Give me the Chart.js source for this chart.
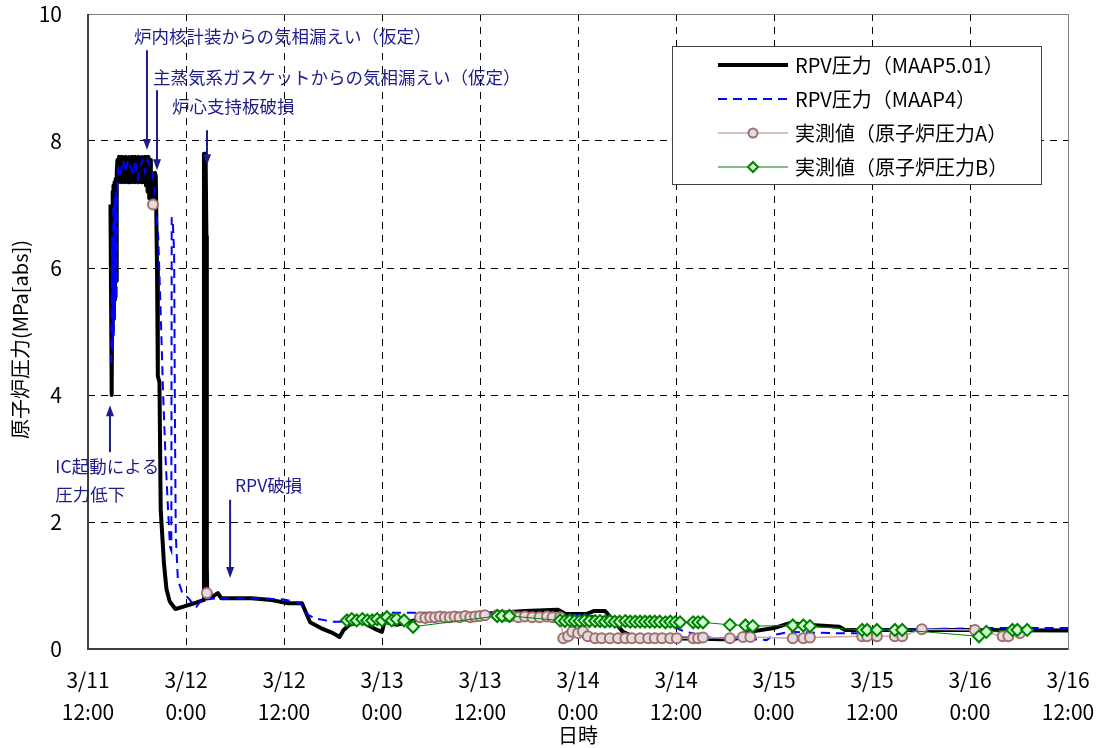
<!DOCTYPE html>
<html lang="ja">
<head>
<meta charset="UTF-8">
<title>RPV圧力</title>
<script src="https://cdn.jsdelivr.net/npm/chart.js"></script>
<style>
  body { margin: 0; background: #fff; }
  #wrap { width: 1097px; height: 748px; }
</style>
</head>
<body>
<div id="wrap"><canvas id="rpvChart" width="1097" height="748"></canvas></div>
<script>
// hours after 3/11 12:00, pressure MPa[abs]
const rpvMaap501 = [
  [2.75,7.0],[2.9,4.0],[2.95,5.3],[3.0,7.2],[3.05,5.0],[3.12,7.3],[3.18,5.2],[3.25,7.35],[3.3,5.5],
  [3.38,7.4],[3.45,5.8],[3.52,7.5],[3.6,7.7],[3.7,7.35],[3.8,7.75],[3.9,7.4],[4.0,7.7],[4.1,7.35],
  [4.2,7.75],[4.3,7.4],[4.4,7.7],[4.5,7.35],[4.6,7.75],[4.7,7.4],[4.8,7.7],[4.9,7.35],[5.0,7.75],
  [5.1,7.4],[5.2,7.7],[5.3,7.35],[5.4,7.75],[5.5,7.4],[5.6,7.7],[5.7,7.35],[5.8,7.75],[5.9,7.4],
  [6.0,7.7],[6.1,7.35],[6.2,7.75],[6.3,7.4],[6.4,7.7],[6.5,7.35],[6.6,7.75],[6.7,7.4],[6.8,7.7],
  [6.9,7.35],[7.0,7.75],[7.1,7.3],[7.2,7.7],[7.3,7.2],[7.4,7.75],[7.5,7.1],[7.6,7.7],[7.7,7.0],
  [7.8,7.1],[8.0,7.2],[8.2,7.5],[8.3,7.45],[8.45,6.0],
  [8.55,4.3],[8.75,4.2],[8.9,2.2],[9.3,1.35],[9.6,0.95],[10.0,0.75],[10.7,0.63],[11.5,0.66],[13.0,0.72],
  [14.1,0.77],[14.2,7.8],[14.4,7.8],[14.5,6.5],[14.55,1.3],[14.6,0.9],[15.2,0.82],[15.9,0.88],[16.3,0.8],
  [20.0,0.8],[22.5,0.77],[24.5,0.72],[26.2,0.72],[27.2,0.42],[28.5,0.33],[30.0,0.25],[30.8,0.19],
  [31.3,0.3],[32.0,0.38],[33.5,0.43],[35.4,0.3],[36.0,0.27],[36.3,0.43],[37.8,0.38],[40.3,0.46],
  [44.0,0.52],[48.0,0.55],[53.5,0.6],[57.5,0.62],[58.5,0.55],[61.0,0.55],[62.0,0.6],[63.3,0.6],
  [64.0,0.5],[65.5,0.27],[66.7,0.2],[70.0,0.17],[75.0,0.16],[79.0,0.15],[80.0,0.19],[81.0,0.27],
  [84.0,0.33],[86.0,0.41],[88.0,0.38],[92.0,0.35],[92.7,0.3],[107.0,0.3],[120.0,0.29]
];
const rpvMaap4 = [
  [2.85,4.5],[2.95,6.5],[3.0,4.7],[3.1,7.0],[3.15,4.9],[3.25,7.1],[3.3,5.2],[3.4,7.2],[3.5,5.5],
  [3.6,7.3],[3.7,7.6],[4.0,7.5],[4.3,7.7],[4.6,7.5],[4.9,7.7],[5.2,7.6],[5.5,7.45],[5.8,7.7],
  [6.1,7.4],[6.4,7.6],[6.7,7.7],[7.0,7.5],[7.3,7.7],[7.6,7.6],[7.9,7.5],[8.1,7.3],[8.6,6.5],
  [8.9,5.3],[9.2,4.0],[9.5,3.0],[9.8,2.2],[10.05,1.6],[10.2,1.55],[10.25,6.8],[10.4,6.7],[10.55,6.2],
  [10.65,3.5],[10.75,1.8],[11.0,1.1],[11.5,0.9],[12.3,0.8],[12.9,0.7],[13.2,0.65],[13.6,0.72],
  [14.0,0.8],[14.5,0.78],[16.0,0.8],[20.0,0.8],[24.0,0.78],[26.0,0.72],[26.8,0.55],[27.8,0.48],
  [30.0,0.43],[31.5,0.43],[33.0,0.45],[35.0,0.5],[37.0,0.57],[45.0,0.57],[55.0,0.57],[58.0,0.55],
  [64.0,0.5],[71.0,0.43],[72.5,0.3],[73.3,0.27],[76.5,0.17],[79.8,0.17],[83.1,0.14],[83.9,0.22],
  [86.0,0.27],[90.9,0.25],[95.4,0.25],[95.8,0.3],[110.8,0.33],[120.0,0.33]
];
// null = no recorded value between the samples
const measuredA = [
  [7.96,7.0],[8.0,null],[14.55,0.88],[14.6,null],
  [40.65,0.5],[41.3,0.49],[41.9,0.5],[42.5,0.5],[43.1,0.51],[43.7,0.5],[44.3,0.5],[44.9,0.51],
  [45.5,0.5],[46.2,0.52],[46.8,0.5],[47.4,0.51],[48.0,0.52],[48.6,0.53],[50.1,0.53],[51.1,0.52],
  [51.9,0.52],[52.7,0.5],[53.5,0.51],[54.4,0.5],[55.3,0.5],[56.2,0.51],[56.9,0.5],[57.8,0.5],
  [58.2,0.17],[58.8,0.2],[59.3,0.27],[60.0,0.25],[60.6,0.28],[61.2,0.2],[62.1,0.17],[62.9,0.17],
  [63.9,0.17],[64.9,0.17],[65.8,0.17],[66.6,0.17],[67.6,0.17],[68.6,0.17],[69.4,0.17],[70.3,0.17],
  [71.3,0.17],[72.1,0.17],[74.1,0.17],[74.7,0.17],[75.3,0.18],[78.6,0.17],[80.2,0.19],[81.1,0.19],
  [86.3,0.17],[87.6,0.17],[88.4,0.18],[94.8,0.2],[95.4,0.2],[96.6,0.2],[98.8,0.2],[99.7,0.2],
  [102.1,0.31],[108.6,0.3],[112.0,0.2],[112.7,0.2],[114.1,0.25]
];
const measuredB = [
  [31.7,0.45],[32.3,0.47],[32.9,0.45],[33.6,0.47],[34.2,0.45],[34.8,0.45],[35.4,0.47],[36.0,0.45],
  [36.6,0.5],[37.2,0.45],[37.8,0.47],[38.7,0.45],[39.8,0.35],[50.1,0.52],[50.7,0.52],[51.6,0.52],
  [57.8,0.45],[58.4,0.44],[59.0,0.45],[59.6,0.44],[60.2,0.44],[60.8,0.45],[61.4,0.44],[62.1,0.44],
  [62.7,0.44],[63.3,0.43],[63.9,0.44],[64.5,0.43],[65.1,0.43],[65.8,0.44],[66.4,0.43],[67.0,0.43],
  [67.6,0.43],[68.2,0.43],[68.8,0.43],[69.4,0.43],[70.0,0.43],[70.7,0.42],[71.3,0.43],[71.9,0.42],
  [72.5,0.42],[74.1,0.42],[74.7,0.42],[75.3,0.42],[78.6,0.38],[80.5,0.37],[81.4,0.36],[86.3,0.37],
  [87.6,0.37],[88.4,0.36],[94.8,0.3],[95.4,0.3],[96.6,0.3],[98.8,0.3],[99.7,0.3],[109.1,0.2],
  [110.0,0.27],[113.2,0.3],[113.8,0.3],[115.0,0.3]
];
const tickHours = [0, 12, 24, 36, 48, 60, 72, 84, 96, 108, 120];
const tickDays  = ['3/11','3/12','3/12','3/13','3/13','3/14','3/14','3/15','3/15','3/16','3/16'];
const tickTimes = ['12:00','0:00','12:00','0:00','12:00','0:00','12:00','0:00','12:00','0:00','12:00'];
const yTicks = [0, 2, 4, 6, 8, 10];
const seriesNames = ['RPV圧力（MAAP5.01）', 'RPV圧力（MAAP4）', '実測値（原子炉圧力A）', '実測値（原子炉圧力B）'];
// [text lines, text x (h), text y (MPa), arrow x (h), arrow from, arrow to]
const notes = [
  [['炉内核計装からの気相漏えい（仮定）'], 5.63, 9.65, 7.22, 9.43, 7.86],
  [['主蒸気系ガスケットからの気相漏えい（仮定）'], 7.96, 9.0, 8.45, 8.8, 7.54],
  [['炉心支持板破損'], 10.3, 8.55, 14.57, 8.17, 7.62],
  [['IC起動による', '圧力低下'], -4.0, 2.87, 2.69, 3.1, 3.84],
  [['RPV破損'], 18.0, 2.58, 17.4, 2.35, 1.12]
];

const FONT = '"Noto Sans CJK JP", "Noto Sans", sans-serif';
const NAVY = '#1c1c8a';
const toXY = arr => arr.map(p => ({ x: p[0], y: p[1] }));

const extras = {
  id: 'extras',
  afterDatasetsDraw(chart) {
    const { ctx, chartArea: a, scales: { x, y } } = chart;
    ctx.save();
    // frame
    ctx.strokeStyle = '#808080';
    ctx.lineWidth = 1;
    ctx.strokeRect(a.left + 0.5, a.top + 0.5, a.right - a.left, a.bottom - a.top);
    ctx.strokeStyle = '#404040';
    ctx.lineWidth = 2;
    ctx.beginPath();
    ctx.moveTo(a.left, a.top);
    ctx.lineTo(a.left, a.bottom);
    ctx.lineTo(a.right, a.bottom);
    ctx.stroke();

    // tick labels
    ctx.fillStyle = '#000';
    ctx.font = '21px ' + FONT;
    ctx.textBaseline = 'middle';
    ctx.textAlign = 'right';
    yTicks.forEach(v => ctx.fillText(String(v), a.left - 26, y.getPixelForValue(v)));
    ctx.textAlign = 'center';
    tickHours.forEach((h, i) => {
      const px = x.getPixelForValue(h);
      ctx.fillText(tickDays[i], px, a.bottom + 31);
      ctx.fillText(tickTimes[i], px, a.bottom + 63);
    });

    // annotations
    ctx.fillStyle = NAVY;
    ctx.strokeStyle = NAVY;
    ctx.font = '17.5px ' + FONT;
    ctx.textAlign = 'left';
    notes.forEach(n => {
      const tx = x.getPixelForValue(n[1]);
      n[0].forEach((line, i) => ctx.fillText(line, tx, y.getPixelForValue(n[2]) + i * 28));
      const ax = x.getPixelForValue(n[3]);
      const y0 = y.getPixelForValue(n[4]);
      const y1 = y.getPixelForValue(n[5]);
      const dir = y1 > y0 ? 1 : -1;
      ctx.lineWidth = 2;
      ctx.beginPath();
      ctx.moveTo(ax, y0);
      ctx.lineTo(ax, y1 - dir * 8);
      ctx.stroke();
      ctx.beginPath();
      ctx.moveTo(ax, y1);
      ctx.lineTo(ax - 4, y1 - dir * 11);
      ctx.lineTo(ax + 4, y1 - dir * 11);
      ctx.closePath();
      ctx.fill();
    });

    // legend
    const lx = a.left + 584, ly = a.top + 32, lw = 369, lh = 138;
    ctx.fillStyle = '#fff';
    ctx.fillRect(lx, ly, lw, lh);
    ctx.strokeStyle = '#404040';
    ctx.lineWidth = 1;
    ctx.strokeRect(lx + 0.5, ly + 0.5, lw, lh);
    chart.data.datasets.forEach((ds, i) => {
      const ry = ly + 19 + i * 34;
      const x0 = lx + 46, x1 = lx + 116;
      ctx.strokeStyle = ds.borderColor;
      ctx.lineWidth = ds.borderWidth;
      ctx.setLineDash(ds.borderDash || []);
      ctx.beginPath();
      ctx.moveTo(x0, ry);
      ctx.lineTo(x1, ry);
      ctx.stroke();
      ctx.setLineDash([]);
      if (ds.pointRadius > 0) {
        const mx = (x0 + x1) / 2;
        ctx.fillStyle = ds.pointBackgroundColor;
        ctx.strokeStyle = ds.pointBorderColor;
        ctx.lineWidth = 2;
        ctx.beginPath();
        if (ds.pointStyle === 'rectRot') {
          const r = 5;
          ctx.moveTo(mx, ry - r); ctx.lineTo(mx + r, ry); ctx.lineTo(mx, ry + r); ctx.lineTo(mx - r, ry);
          ctx.closePath();
        } else {
          ctx.arc(mx, ry, 4.5, 0, Math.PI * 2);
        }
        ctx.fill();
        ctx.stroke();
      }
      ctx.fillStyle = '#000';
      ctx.font = '20px ' + FONT;
      ctx.fillText(ds.label, lx + 123, ry);
    });

    // axis titles
    ctx.fillStyle = '#000';
    ctx.font = '20px ' + FONT;
    ctx.textAlign = 'center';
    ctx.fillText('日時', (a.left + a.right) / 2, 735);
    ctx.translate(20, (a.top + a.bottom) / 2 + 8);
    ctx.rotate(-Math.PI / 2);
    ctx.fillText('原子炉圧力(MPa[abs])', 0, 0);
    ctx.restore();
  }
};

new Chart(document.getElementById('rpvChart').getContext('2d'), {
  type: 'line',
  data: {
    datasets: [
      {
        label: seriesNames[0], data: toXY(rpvMaap501), borderColor: '#000', borderWidth: 4,
        pointRadius: 0, order: 3, borderJoinStyle: 'round'
      },
      {
        label: seriesNames[1], data: toXY(rpvMaap4), borderColor: '#0000ff', borderWidth: 2,
        borderDash: [9, 6], pointRadius: 0, order: 2
      },
      {
        label: seriesNames[2], data: toXY(measuredA), borderColor: '#c8a8a8', borderWidth: 1.5,
        pointRadius: 5, pointBackgroundColor: '#e2dcdc', pointBorderColor: '#a07070',
        pointBorderWidth: 2, order: 1, spanGaps: false
      },
      {
        label: seriesNames[3], data: toXY(measuredB), borderColor: '#008000', borderWidth: 1,
        pointStyle: 'rectRot', pointRadius: 6, pointBackgroundColor: '#ccffcc',
        pointBorderColor: '#008000', pointBorderWidth: 2, order: 0
      }
    ]
  },
  options: {
    responsive: false,
    animation: false,
    events: [],
    layout: { padding: { top: 14, right: 29, left: 0, bottom: 0 } },
    plugins: { legend: { display: false }, tooltip: { enabled: false } },
    elements: { line: { tension: 0 } },
    scales: {
      x: {
        type: 'linear', min: 0, max: 120,
        afterBuildTicks: s => { s.ticks = tickHours.map(v => ({ value: v })); },
        afterFit: s => { s.height = 99; },
        ticks: { display: false },
        grid: { color: '#000', lineWidth: 1, drawTicks: false, tickLength: 0 },
        border: { display: false, dash: [7, 6] }
      },
      y: {
        min: 0, max: 10,
        afterBuildTicks: s => { s.ticks = yTicks.map(v => ({ value: v })); },
        afterFit: s => { s.width = 88; },
        ticks: { display: false },
        grid: { color: '#000', lineWidth: 1, drawTicks: false, tickLength: 0 },
        border: { display: false, dash: [7, 6] }
      }
    }
  },
  plugins: [extras]
});
</script>
</body>
</html>
